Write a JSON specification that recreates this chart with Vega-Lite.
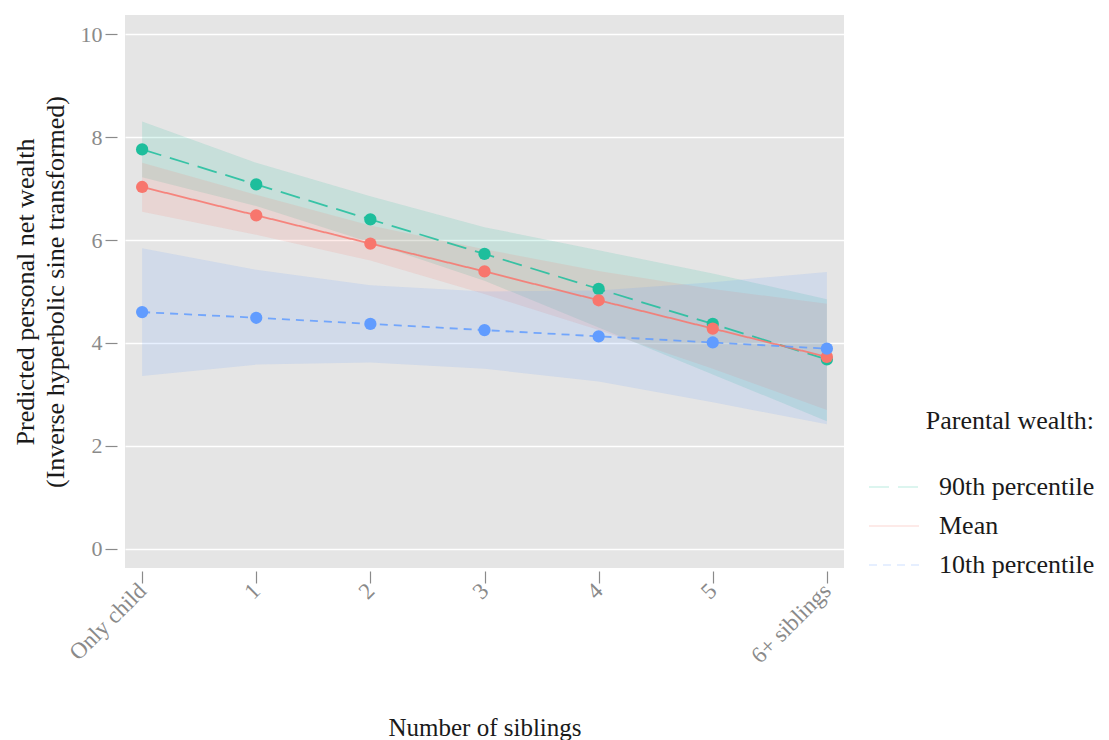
{
  "$schema": "https://vega.github.io/schema/vega-lite/v6.json",
  "width": 719,
  "height": 553,
  "autosize": {"type": "none"},
  "padding": {"left": 125, "top": 15, "right": 265, "bottom": 172},
  "background": "white",
  "config": {
    "view": {"fill": "#E5E5E5", "stroke": null},
    "font": "Liberation Serif",
    "axis": {
      "gridColor": "white",
      "gridWidth": 1.6,
      "domain": false,
      "tickColor": "#8a8a8a",
      "tickWidth": 1.2,
      "labelColor": "#8a8a8a",
      "labelFont": "Liberation Serif",
      "labelFontSize": 22,
      "titleFont": "Liberation Serif",
      "titleFontSize": 25,
      "titleFontWeight": "normal",
      "titleColor": "#1a1a1a"
    },
    "legend": {
      "labelFont": "Liberation Serif",
      "labelFontSize": 26,
      "labelColor": "#1a1a1a",
      "titleFont": "Liberation Serif",
      "titleFontSize": 26,
      "titleFontWeight": "normal",
      "titleColor": "#1a1a1a"
    }
  },
  "data": {
    "values": [
      {"sib": "Only child", "group": "90th percentile", "y": 7.76, "lo": 7.22, "hi": 8.3},
      {"sib": "1", "group": "90th percentile", "y": 7.08, "lo": 6.66, "hi": 7.5},
      {"sib": "2", "group": "90th percentile", "y": 6.4, "lo": 5.95, "hi": 6.85},
      {"sib": "3", "group": "90th percentile", "y": 5.73, "lo": 5.21, "hi": 6.25},
      {"sib": "4", "group": "90th percentile", "y": 5.05, "lo": 4.3, "hi": 5.8},
      {"sib": "5", "group": "90th percentile", "y": 4.37, "lo": 3.39, "hi": 5.35},
      {"sib": "6+ siblings", "group": "90th percentile", "y": 3.68, "lo": 2.48, "hi": 4.85},
      {"sib": "Only child", "group": "Mean", "y": 7.03, "lo": 6.55, "hi": 7.5},
      {"sib": "1", "group": "Mean", "y": 6.48, "lo": 6.1, "hi": 6.88},
      {"sib": "2", "group": "Mean", "y": 5.93, "lo": 5.6, "hi": 6.28},
      {"sib": "3", "group": "Mean", "y": 5.39, "lo": 4.95, "hi": 5.82},
      {"sib": "4", "group": "Mean", "y": 4.83, "lo": 4.25, "hi": 5.4},
      {"sib": "5", "group": "Mean", "y": 4.28, "lo": 3.5, "hi": 5.05},
      {"sib": "6+ siblings", "group": "Mean", "y": 3.73, "lo": 2.7, "hi": 4.76},
      {"sib": "Only child", "group": "10th percentile", "y": 4.6, "lo": 3.36, "hi": 5.84},
      {"sib": "1", "group": "10th percentile", "y": 4.49, "lo": 3.58, "hi": 5.42},
      {"sib": "2", "group": "10th percentile", "y": 4.37, "lo": 3.62, "hi": 5.12},
      {"sib": "3", "group": "10th percentile", "y": 4.25, "lo": 3.5, "hi": 5.0},
      {"sib": "4", "group": "10th percentile", "y": 4.13, "lo": 3.25, "hi": 5.02},
      {"sib": "5", "group": "10th percentile", "y": 4.01, "lo": 2.85, "hi": 5.18},
      {"sib": "6+ siblings", "group": "10th percentile", "y": 3.89, "lo": 2.42, "hi": 5.38}
    ]
  },
  "encoding": {
    "x": {
      "field": "sib",
      "type": "ordinal",
      "sort": ["Only child", "1", "2", "3", "4", "5", "6+ siblings"],
      "scale": {"type": "point", "padding": 0.15},
      "axis": {
        "title": "Number of siblings",
        "labelAngle": -45,
        "labelAlign": "right",
        "labelBaseline": "middle",
        "labelFontSize": 23,
        "labelPadding": 4,
        "tickSize": 12,
        "offset": 3,
        "titlePadding": 48
      }
    },
    "color": {
      "field": "group",
      "type": "nominal",
      "scale": {"domain": ["90th percentile", "Mean", "10th percentile"], "range": ["#1DBE9C", "#F8766D", "#619CFF"]},
      "legend": {
        "title": "Parental wealth:",
        "orient": "none",
        "legendX": 743,
        "legendY": 393,
        "padding": 0,
        "symbolType": "stroke",
        "symbolSize": 2500,
        "symbolStrokeWidth": 1.8,
        "labelOffset": 19,
        "titleAnchor": "end",
        "titlePadding": 27,
        "rowPadding": -2,
        "encode": {"symbols": {"update": {"opacity": {"value": 0.85}, "strokeWidth": {"value": 1.8}}}}
      }
    }
  },
  "layer": [
    {
      "mark": {"type": "area", "opacity": 0.15},
      "encoding": {
        "y": {"field": "lo", "type": "quantitative"},
        "y2": {"field": "hi"}
      }
    },
    {
      "mark": {"type": "line", "strokeWidth": 1.8, "opacity": 0.85},
      "encoding": {
        "y": {
          "field": "y",
          "type": "quantitative",
          "scale": {"domain": [-0.37, 10.37], "nice": false, "zero": false},
          "axis": {
            "title": ["Predicted personal net wealth", "(Inverse hyperbolic sine transformed)"],
            "values": [0, 2, 4, 6, 8, 10],
            "tickSize": 12,
            "offset": 8,
            "labelPadding": 3,
            "titlePadding": 12,
            "titleFontSize": 26,
            "titleLineHeight": 30
          }
        },
        "strokeDash": {
          "field": "group",
          "type": "nominal",
          "scale": {"domain": ["90th percentile", "Mean", "10th percentile"], "range": [[20, 9], [1, 0], [8, 6]]},
          "legend": {
            "title": "Parental wealth:",
            "orient": "none",
            "legendX": 743,
            "legendY": 393,
            "padding": 0,
            "symbolType": "stroke",
            "symbolSize": 2500,
            "symbolStrokeWidth": 1.8,
            "labelOffset": 19,
            "titleAnchor": "end",
            "titlePadding": 27,
            "rowPadding": -2
          }
        }
      }
    },
    {
      "mark": {"type": "circle", "size": 150, "opacity": 1},
      "encoding": {
        "y": {"field": "y", "type": "quantitative"}
      }
    }
  ]
}
